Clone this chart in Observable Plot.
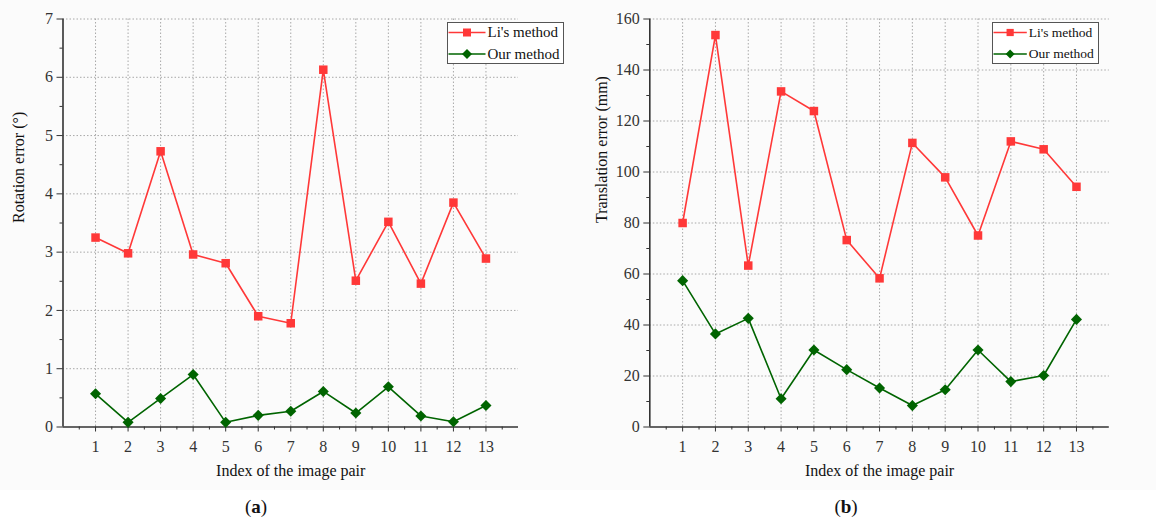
<!DOCTYPE html>
<html>
<head>
<meta charset="utf-8">
<script src="https://cdn.jsdelivr.net/npm/d3@7"></script>
<script src="https://cdn.jsdelivr.net/npm/@observablehq/plot@0.6"></script>
<style>
  body { margin: 0; background: #fff; }
  #wrap { position: relative; width: 1156px; height: 520px; font-family: "Liberation Serif", serif; }
  .panel { position: absolute; top: 0; }
  .cap { position: absolute; top: 497px; font-size: 19px; line-height: 1; transform: translateX(-50%); color: #111; }
  .legend { position: absolute; }
</style>
</head>
<body>
<div id="wrap"></div>
<script>
// ---- data ----
const pairIndex = [1, 2, 3, 4, 5, 6, 7, 8, 9, 10, 11, 12, 13];
const rotationLi  = [3.25, 2.98, 4.73, 2.96, 2.81, 1.90, 1.78, 6.13, 2.51, 3.52, 2.46, 3.85, 2.89];
const rotationOur = [0.57, 0.08, 0.49, 0.90, 0.08, 0.20, 0.27, 0.61, 0.24, 0.69, 0.19, 0.09, 0.37];
const translationLi  = [80.0, 153.7, 63.3, 131.6, 123.9, 73.3, 58.3, 111.4, 97.9, 75.1, 112.0, 108.9, 94.2];
const translationOur = [57.4, 36.5, 42.6, 11.1, 30.2, 22.5, 15.3, 8.4, 14.6, 30.2, 17.8, 20.2, 42.2];
const seriesNames = ["Li's method", "Our method"];
const rotationTicks = [0, 1, 2, 3, 4, 5, 6, 7];
const translationTicks = [0, 20, 40, 60, 80, 100, 120, 140, 160];
const xLabel = "Index of the image pair";
const yLabels = ["Rotation error (°)", "Translation error (mm)"];
const captions = ["a", "b"];

const RED = "#ff3838";
const GREEN = "#006400";
const FONT = "Liberation Serif";

function panel(o) {
  const li = pairIndex.map((x, i) => ({x, y: o.li[i]}));
  const our = pairIndex.map((x, i) => ({x, y: o.our[i]}));
  const minorX = d3.range(0.5, 14, 1);
  const step = o.yTicks[1] - o.yTicks[0];
  const minorY = o.yTicks.slice(0, -1).map(v => v + step / 2);
  const grid = {stroke: "#a8a8a8", strokeOpacity: 1, strokeWidth: 1, strokeDasharray: "1.5,2"};
  const txt = {fontFamily: FONT, fontSize: 16};
  return Plot.plot({
    width: o.width,
    height: 490,
    marginLeft: o.marginLeft,
    marginRight: o.marginRight,
    marginTop: 18.5,
    marginBottom: 63.5,
    style: {fontFamily: FONT, fontSize: "16px", color: "#333", background: "#fbfbfb", overflow: "visible"},
    x: {domain: [0, 14]},
    y: {domain: [o.yTicks[0], o.yTicks[o.yTicks.length - 1]]},
    marks: [
      Plot.gridX(pairIndex, grid),
      Plot.gridY(o.yTicks.slice(1), grid),
      Plot.axisX({ticks: minorX, tickSize: 3, tickFormat: () => "", label: null, stroke: "#333"}),
      Plot.axisX({ticks: pairIndex, tickSize: 5, tickPadding: 9, tickFormat: d => String(d), label: null, stroke: "#333", ...txt}),
      Plot.axisY({ticks: minorY, tickSize: 3, tickFormat: () => "", label: null, stroke: "#333"}),
      Plot.axisY({ticks: o.yTicks, tickSize: 6, tickPadding: 4, tickFormat: d => String(d), label: null, stroke: "#333", ...txt}),
      Plot.ruleX([0], {stroke: "#333", strokeWidth: 1.6}),
      Plot.ruleY([o.yTicks[0]], {stroke: "#333", strokeWidth: 1.6}),
      Plot.line(li, {x: "x", y: "y", stroke: RED, strokeWidth: 1.6}),
      Plot.dot(li, {x: "x", y: "y", symbol: "square", r: 4.8, fill: RED, stroke: "none"}),
      Plot.line(our, {x: "x", y: "y", stroke: GREEN, strokeWidth: 1.6}),
      Plot.dot(our, {x: "x", y: "y", symbol: "diamond2", r: 5, fill: GREEN, stroke: "none"}),
      Plot.text([o.yLabel], {text: d => d, frameAnchor: "left", rotate: -90, dx: -o.labelDx, fill: "#111", ...txt}),
      Plot.text([xLabel], {text: d => d, frameAnchor: "bottom", dy: 49, fill: "#111", ...txt})
    ]
  });
}

function legend(left, top, w, scale) {
  const h = 42;
  const ns = "http://www.w3.org/2000/svg";
  const lineW = 37 * scale;
  const fs = 15 * scale;
  let s = `<svg xmlns="${ns}" width="${w}" height="${h}" style="display:block">`;
  s += `<rect x="0.5" y="0.5" width="${w - 1}" height="${h - 1}" fill="#fff" stroke="#555" stroke-width="1"/>`;
  const rows = [10.5, 32];
  seriesNames.forEach((name, i) => {
    const cy = rows[i];
    const col = i === 0 ? RED : GREEN;
    s += `<line x1="1.5" x2="${1.5 + lineW}" y1="${cy}" y2="${cy}" stroke="${col}" stroke-width="1.6"/>`;
    const cx = 1.5 + lineW / 2;
    if (i === 0) {
      const a = 4 * scale;
      s += `<rect x="${cx - a}" y="${cy - a}" width="${2 * a}" height="${2 * a}" fill="${col}"/>`;
    } else {
      const a = 5 * scale;
      s += `<path d="M${cx},${cy - a}L${cx + a},${cy}L${cx},${cy + a}L${cx - a},${cy}Z" fill="${col}"/>`;
    }
    s += `<text x="${lineW + 3.5}" y="${cy + fs * 0.33}" font-family="${FONT}" font-size="${fs}" fill="#111">${name.replace("'", "&#39;")}</text>`;
  });
  s += `</svg>`;
  const d = document.createElement("div");
  d.className = "legend";
  d.style.left = left + "px";
  d.style.top = top + "px";
  d.innerHTML = s;
  return d;
}

const wrap = document.getElementById("wrap");

const p1 = panel({width: 580, marginLeft: 62.5, marginRight: 62, yTicks: rotationTicks,
  li: rotationLi, our: rotationOur, yLabel: yLabels[0], labelDx: 44.5});
p1.classList.add("panel");
p1.style.left = "0px";
wrap.appendChild(p1);

const p2 = panel({width: 576, marginLeft: 69.3, marginRight: 47.2, yTicks: translationTicks,
  li: translationLi, our: translationOur, yLabel: yLabels[1], labelDx: 48});
p2.classList.add("panel");
p2.style.left = "580px";
wrap.appendChild(p2);

wrap.appendChild(legend(447, 22, 117, 1));
wrap.appendChild(legend(992, 22, 107, 0.9));

[[256, captions[0]], [846, captions[1]]].forEach(([x, c]) => {
  const d = document.createElement("div");
  d.className = "cap";
  d.style.left = x + "px";
  d.innerHTML = `(<b>${c}</b>)`;
  wrap.appendChild(d);
});
</script>
</body>
</html>
